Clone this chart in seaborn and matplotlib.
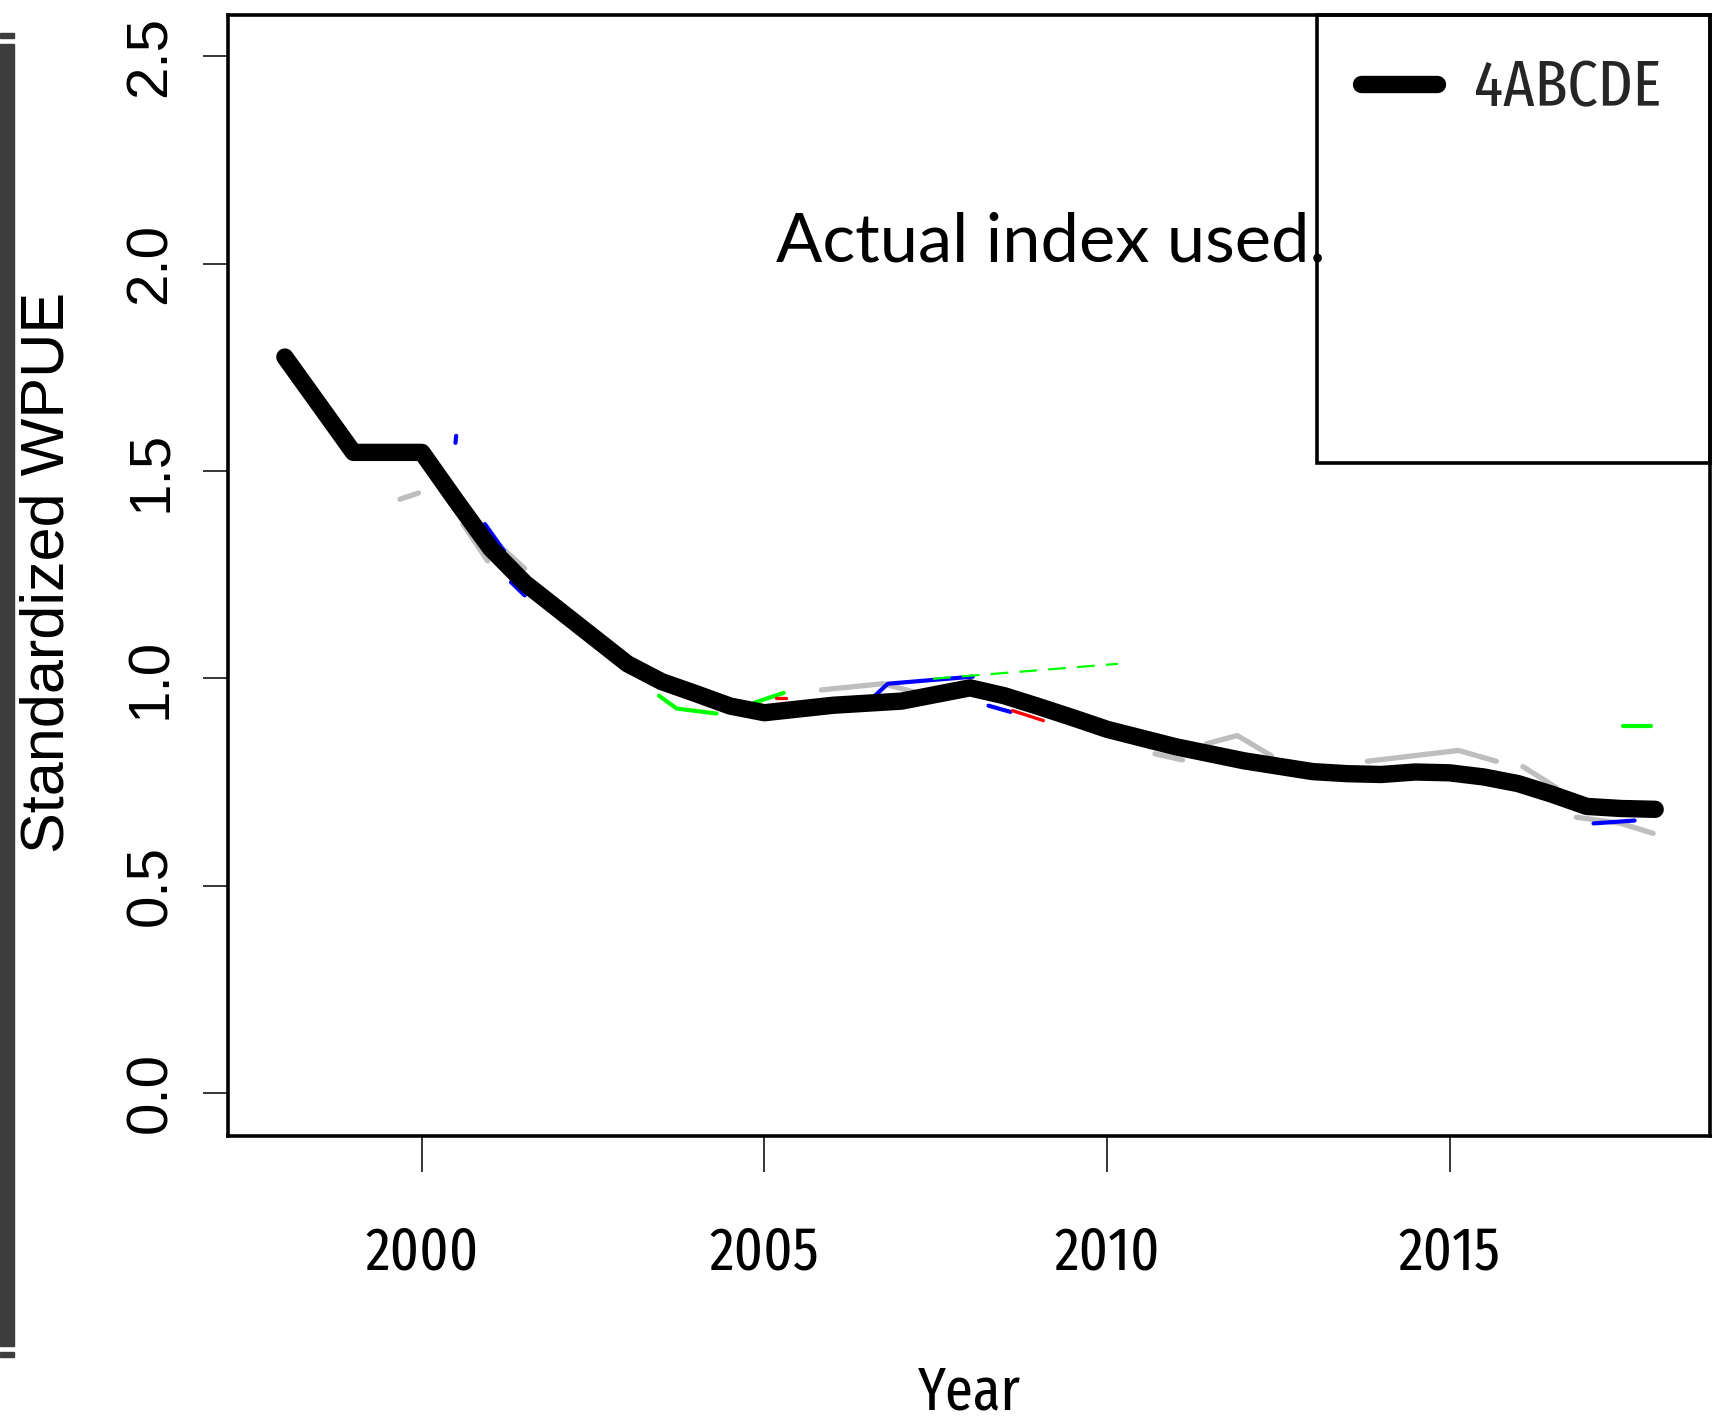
import os
import numpy as np
import pandas as pd
import matplotlib
matplotlib.use("Agg")
import matplotlib.pyplot as plt
import seaborn as sns
from matplotlib.patches import Rectangle
from matplotlib.lines import Line2D
from matplotlib import font_manager as fm

# ---------------- data ----------------
years = [1998, 1999, 2000, 2000.5, 2001, 2001.5, 2002, 2002.5, 2003, 2003.5, 2004, 2004.5,
         2005, 2006, 2007, 2008, 2008.5, 2009, 2009.5, 2010, 2011, 2012, 2012.5, 2013, 2013.5,
         2014, 2014.5, 2015, 2015.5, 2016, 2016.5, 2017, 2017.5, 2018]
wpue_4abcde = [1.775, 1.545, 1.545, 1.428, 1.314, 1.230, 1.165, 1.100, 1.035, 0.992, 0.963, 0.933,
               0.917, 0.935, 0.945, 0.977, 0.958, 0.932, 0.905, 0.877, 0.835, 0.801, 0.788, 0.775, 0.770,
               0.768, 0.774, 0.772, 0.762, 0.746, 0.720, 0.691, 0.686, 0.684]

# partially visible remnants of other series (segment id, year, value)
gray_seg = [0, 0, 1, 1, 2, 2, 3, 3, 3, 4, 4, 5, 5, 5, 6, 6, 6, 7, 7, 8, 8, 8]
gray_year = [1999.68, 1999.95, 2000.60, 2000.96, 2001.20, 2001.50, 2005.83, 2006.73, 2007.30,
             2010.70, 2011.10, 2011.45, 2011.90, 2012.40, 2013.80, 2015.13, 2015.68,
             2016.07, 2016.55, 2016.85, 2017.50, 2017.97]
gray_val = [1.432, 1.447, 1.372, 1.283, 1.310, 1.265, 0.972, 0.987, 0.962,
            0.818, 0.803, 0.842, 0.862, 0.813, 0.800, 0.826, 0.800,
            0.787, 0.737, 0.665, 0.650, 0.626]

blue_seg = [0, 0, 1, 1, 2, 2, 3, 3, 3, 4, 4, 5, 5]
blue_year = [2000.49, 2000.50, 2000.92, 2001.20, 2001.30, 2001.50, 2006.58, 2006.80, 2008.04,
             2008.27, 2008.59, 2017.10, 2017.70]
blue_val = [1.568, 1.585, 1.372, 1.307, 1.232, 1.200, 0.953, 0.987, 1.004,
            0.934, 0.919, 0.650, 0.657]

green_seg = [0, 0, 0, 1, 1, 2, 2]
green_year = [2003.46, 2003.72, 2004.30, 2004.85, 2005.28, 2017.53, 2017.94]
green_val = [0.958, 0.927, 0.915, 0.941, 0.965, 0.886, 0.886]

green_dash_year = [2007.46, 2010.16]
green_dash_val = [0.999, 1.035]

red_seg = [0, 0, 1, 1]
red_year = [2005.17, 2005.32, 2008.62, 2009.07]
red_val = [0.953, 0.953, 0.922, 0.898]

y_ticks = [0.0, 0.5, 1.0, 1.5, 2.0, 2.5]
x_ticks = [2000, 2005, 2010, 2015]

# ---------------- fonts ----------------
def find_narrow():
    best = None
    for f in fm.fontManager.ttflist:
        base = os.path.basename(f.fname)
        key = (f.name + " " + base).lower()
        if f.style != "normal" or "italic" in key or "oblique" in key:
            continue
        try:
            w = int(f.weight)
        except Exception:
            w = 400 if f.weight in ("normal", "regular") else 700
        if w != 400:
            continue
        if "mono" in key or "serif" in key.replace("sans", ""):
            continue
        if "ultracondensed" in key or "ultra condensed" in key:
            continue
        if "extracondensed" in key or "extra condensed" in key:
            rank, cls = 0, "extra"
        elif "narrow" in key:
            rank, cls = 1, "narrow"
        elif "semicondensed" in key or "semi condensed" in key:
            rank, cls = 3, "semi"
        elif "condensed" in key or str(f.stretch) == "condensed":
            rank, cls = 2, "cond"
        else:
            continue
        cand = (rank, base, f.fname, cls)
        if best is None or cand < best:
            best = cand
    return best

nb = find_narrow()
if nb is not None:
    narrow_fp = fm.FontProperties(fname=nb[2])
    sizes = {"extra": (44, 44, 47), "narrow": (43, 44, 44), "cond": (41, 40, 41),
             "semi": (38, 38, 37)}[nb[3]]
else:
    narrow_fp = fm.FontProperties(family=["Liberation Sans", "DejaVu Sans"])
    sizes = (36, 38, 34)
tick_size, lab_size, leg_size = sizes
REG = ["Liberation Sans", "DejaVu Sans"]

# ---------------- figure ----------------
W, H = 1719, 1421
sns.set_theme(style="white")
plt.rcParams["font.family"] = ["Liberation Sans", "DejaVu Sans"]

fig = plt.figure(figsize=(W / 100, H / 100), dpi=100)
fig.patch.set_facecolor("white")

# axes box in pixel coords: left 228, right 1710, top 15, bottom 1136
ax = fig.add_axes([228 / W, (H - 1136) / H, (1710 - 228) / W, (1136 - 15) / H])
ax.set_facecolor("white")

def frag(seg, yr, val, color, lw, ls="-"):
    df = pd.DataFrame({"seg": seg, "year": yr, "val": val})
    sns.lineplot(data=df, x="year", y="val", units="seg", estimator=None,
                 color=color, lw=lw, ls=ls, sort=False, ax=ax, legend=False)

frag(gray_seg, gray_year, gray_val, "#bebebe", 3.8)
frag(blue_seg, blue_year, blue_val, "#0000ff", 3.0)
frag(green_seg, green_year, green_val, "#00ff00", 3.0)
sns.lineplot(x=green_dash_year, y=green_dash_val, color="#00ff00", lw=1.6,
             ls=(0, (8, 5)), ax=ax, legend=False)
frag(red_seg, red_year, red_val, "#ff0000", 2.4)

main = pd.DataFrame({"Year": years, "WPUE": wpue_4abcde})
sns.lineplot(data=main, x="Year", y="WPUE", color="black", lw=12.5,
             solid_capstyle="round", solid_joinstyle="round", ax=ax, legend=False)

ax.set_xlim(1997.17, 2018.8)
ax.set_ylim(-0.104, 2.6)

for s in ax.spines.values():
    s.set_visible(True)
    s.set_color("black")
    s.set_linewidth(2.6)

ax.set_xticks(x_ticks)
ax.set_xticklabels([str(t) for t in x_ticks])
ax.set_yticks(y_ticks)
ax.set_yticklabels([f"{t:.1f}" for t in y_ticks])
ax.tick_params(axis="x", direction="out", length=26, width=1.1, color="black",
               pad=37, labelcolor="black", bottom=True)
ax.tick_params(axis="y", direction="out", length=18, width=1.1, color="black",
               pad=18, labelsize=42, labelcolor="black", left=True)
for lab in ax.get_xticklabels():
    lab.set_fontproperties(narrow_fp)
    lab.set_fontsize(tick_size)
for lab in ax.get_yticklabels():
    lab.set_family(REG)
    lab.set_rotation(90)
    lab.set_va("center")

ax.set_xlabel("Year", color="black", fontproperties=narrow_fp)
ax.xaxis.label.set_fontsize(lab_size)
ax.xaxis.set_label_coords(0.5, -0.203)
ax.set_ylabel("Standardized WPUE", fontsize=44, family=REG, color="black")
ax.yaxis.set_label_coords(-0.1019, 0.503)

# legend box
ax.add_patch(Rectangle((0.7348, 0.6003), 1 - 0.7348, 1 - 0.6003, transform=ax.transAxes,
                       fill=False, edgecolor="black", lw=2.6, zorder=5, clip_on=False))
handle = Line2D([], [], color="black", lw=12.5, solid_capstyle="round")
leg_fp = narrow_fp.copy()
leg_fp.set_size(leg_size)
leg = ax.legend([handle], ["4ABCDE"], loc="center left", bbox_to_anchor=(0.7645, 0.9331),
                frameon=False, borderpad=0, borderaxespad=0, handlelength=1.17,
                handletextpad=0.56, prop=leg_fp)

# annotation
fig.text(776 / W, (H - 261) / H, "Actual index used.", fontsize=49.3,
         family=["Lato", "DejaVu Sans"], color="black", ha="left", va="baseline")

# dark bar at left edge
fig.patches.append(Rectangle((0, (H - 1346) / H), 14 / W, (1346 - 44) / H,
                             transform=fig.transFigure, color="#3d3d3d", zorder=0))
fig.patches.append(Rectangle((0, (H - 38) / H), 14 / W, 5 / H,
                             transform=fig.transFigure, color="#3d3d3d", zorder=0))
fig.patches.append(Rectangle((0, (H - 1357) / H), 14 / W, 5 / H,
                             transform=fig.transFigure, color="#3d3d3d", zorder=0))

fig.savefig("out.png", dpi=100, facecolor="white")
